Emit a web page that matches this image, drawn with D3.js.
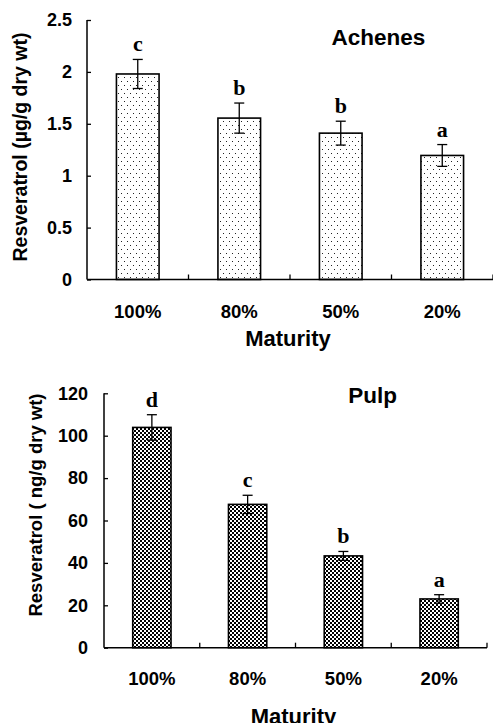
<!DOCTYPE html>
<html>
<head>
<meta charset="utf-8">
<script src="https://cdn.jsdelivr.net/npm/d3@7"></script>
<style>
  html, body { margin: 0; padding: 0; background: #fff; }
  svg { display: block; }
  text { font-family: "Liberation Sans", Arial, sans-serif; font-weight: bold; fill: #000; }
  .sig { font-family: "Liberation Serif", "Times New Roman", serif; }
</style>
</head>
<body>
<svg id="chart" width="493" height="723"></svg>
<script>
// categories shared by both panels
const maturity = ['100%', '80%', '50%', '20%'];

// Achenes panel (µg/g dry wt)
const achenesMean = [1.98, 1.555, 1.41, 1.195];
const achenesErr = [0.14, 0.145, 0.115, 0.105];
const achenesLetters = ['c', 'b', 'b', 'a'];
const achenesTicks = [0, 0.5, 1, 1.5, 2, 2.5];

// Pulp panel (ng/g dry wt)
const pulpMean = [103.9, 67.6, 43.3, 23.0];
const pulpErr = [6, 4.3, 2.1, 2];
const pulpLetters = ['d', 'c', 'b', 'a'];
const pulpTicks = [0, 20, 40, 60, 80, 100, 120];

const svg = d3.select('#chart');
const defs = svg.append('defs');

// sparse dot fill for achenes
const dots = defs.append('pattern').attr('id', 'dots')
  .attr('patternUnits', 'userSpaceOnUse').attr('width', 6).attr('height', 8);
dots.append('rect').attr('width', 6).attr('height', 8).attr('fill', '#fff');
dots.append('rect').attr('x', 1).attr('y', 1).attr('width', 1).attr('height', 1).attr('fill', '#222');
dots.append('rect').attr('x', 4).attr('y', 5).attr('width', 1).attr('height', 1).attr('fill', '#222');

// checkerboard fill for pulp
const check = defs.append('pattern').attr('id', 'check')
  .attr('patternUnits', 'userSpaceOnUse').attr('width', 4).attr('height', 4);
check.append('rect').attr('width', 4).attr('height', 4).attr('fill', '#fff');
check.append('rect').attr('width', 2).attr('height', 2).attr('fill', '#000');
check.append('rect').attr('x', 2).attr('y', 2).attr('width', 2).attr('height', 2).attr('fill', '#000');

function drawPanel(cfg) {
  const g = svg.append('g');
  const x = d3.scaleBand().domain(maturity).range([cfg.x0, cfg.x1]).paddingInner(cfg.pad).paddingOuter(cfg.pad / 2);
  const y = d3.scaleLinear().domain([0, d3.max(cfg.ticks)]).range([cfg.y0, cfg.y1]);
  const step = x.step();

  // y axis, ticks point into the plot
  const ya = g.append('g').attr('transform', `translate(${cfg.x0},0)`)
    .call(d3.axisLeft(y).tickValues(cfg.ticks).tickSize(0).tickPadding(cfg.tickPad).tickFormat(d3.format('')));
  ya.select('.domain').attr('stroke-width', 1.5).attr('d', `M0,${cfg.y1}V${cfg.y0}`);
  ya.selectAll('.tick line').attr('x2', 4).attr('stroke-width', 1.3);
  ya.selectAll('.tick text').attr('font-size', 18);

  // bars
  g.selectAll('rect.bar').data(cfg.mean).join('rect')
    .attr('class', 'bar')
    .attr('x', (d, i) => x(maturity[i]))
    .attr('width', x.bandwidth())
    .attr('y', d => y(d))
    .attr('height', d => y(0) - y(d))
    .attr('fill', `url(#${cfg.fill})`)
    .attr('stroke', '#000').attr('stroke-width', 1.6);

  // error bars
  const eb = g.selectAll('g.err').data(cfg.mean).join('g').attr('class', 'err')
    .attr('transform', (d, i) => `translate(${x(maturity[i]) + x.bandwidth() / 2},0)`);
  eb.append('line').attr('y1', (d, i) => y(d + cfg.err[i])).attr('y2', (d, i) => y(d - cfg.err[i]))
    .attr('stroke', '#000').attr('stroke-width', 1.3);
  eb.append('line').attr('x1', -5).attr('x2', 5)
    .attr('y1', (d, i) => y(d + cfg.err[i])).attr('y2', (d, i) => y(d + cfg.err[i]))
    .attr('stroke', '#000').attr('stroke-width', 1.3);
  eb.append('line').attr('x1', -5).attr('x2', 5)
    .attr('y1', (d, i) => y(d - cfg.err[i])).attr('y2', (d, i) => y(d - cfg.err[i]))
    .attr('stroke', '#000').attr('stroke-width', 1.3);

  // significance letters
  eb.append('text').attr('class', 'sig')
    .attr('text-anchor', 'middle').attr('font-size', 22)
    .attr('y', (d, i) => y(d + cfg.err[i]) - 8)
    .text((d, i) => cfg.letters[i]);

  // x axis line with small upward ticks between categories
  const xa = g.append('g').attr('transform', `translate(0,${cfg.y0})`);
  xa.append('line').attr('x1', cfg.x0).attr('x2', cfg.x1).attr('stroke', '#000').attr('stroke-width', 1.5);
  xa.selectAll('line.sep').data(maturity).join('line').attr('class', 'sep')
    .attr('x1', d => x(d) - x.paddingInner() * step / 2 + step)
    .attr('x2', d => x(d) - x.paddingInner() * step / 2 + step)
    .attr('y1', 0).attr('y2', -5).attr('stroke', '#000').attr('stroke-width', 1.3);

  g.selectAll('text.cat').data(maturity).join('text').attr('class', 'cat')
    .attr('x', d => x(d) + x.bandwidth() / 2).attr('y', cfg.catY)
    .attr('text-anchor', 'middle').attr('font-size', 18.5)
    .text(d => d);

  // axis titles and panel title
  g.append('text').attr('x', (cfg.x0 + cfg.x1) / 2 - 2).attr('y', cfg.matY)
    .attr('text-anchor', 'middle').attr('font-size', 22).text('Maturity');
  g.append('text').attr('transform', `translate(${cfg.ylabX},${cfg.ylabY}) rotate(-90)`)
    .attr('text-anchor', 'middle').attr('font-size', cfg.ylabSize).text(cfg.ylabel);
  g.append('text').attr('x', cfg.titleX).attr('y', cfg.titleY)
    .attr('text-anchor', 'middle').attr('font-size', 22.5).text(cfg.title);
}

drawPanel({
  mean: achenesMean, err: achenesErr, letters: achenesLetters, ticks: achenesTicks,
  fill: 'dots', x0: 87, x1: 493, y0: 279.5, y1: 20, pad: 0.58, tickPad: 15,
  catY: 317.5, matY: 346, ylabX: 27, ylabY: 147, ylabSize: 19.5,
  ylabel: 'Resveratrol (\u00b5g/g dry wt)', title: 'Achenes', titleX: 378.5, titleY: 45
});

drawPanel({
  mean: pulpMean, err: pulpErr, letters: pulpLetters, ticks: pulpTicks,
  fill: 'check', x0: 104, x1: 487, y0: 647.7, y1: 393.3, pad: 0.6, tickPad: 16,
  catY: 685, matY: 724, ylabX: 42, ylabY: 505, ylabSize: 18.5,
  ylabel: 'Resveratrol ( ng/g dry wt)', title: 'Pulp', titleX: 372.5, titleY: 403
});
</script>
</body>
</html>
